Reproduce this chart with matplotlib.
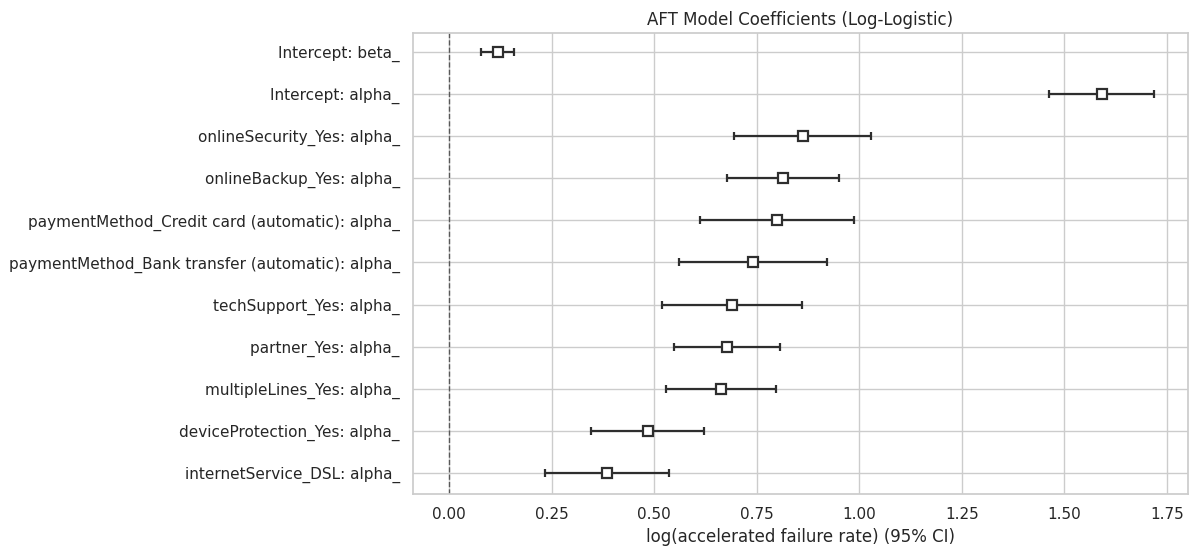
import numpy as np
import matplotlib
matplotlib.use("Agg")
import matplotlib.pyplot as plt
import seaborn as sns

# coefficients, top row first
labels = [
    "Intercept: beta_",
    "Intercept: alpha_",
    "onlineSecurity_Yes: alpha_",
    "onlineBackup_Yes: alpha_",
    "paymentMethod_Credit card (automatic): alpha_",
    "paymentMethod_Bank transfer (automatic): alpha_",
    "techSupport_Yes: alpha_",
    "partner_Yes: alpha_",
    "multipleLines_Yes: alpha_",
    "deviceProtection_Yes: alpha_",
    "internetService_DSL: alpha_",
]
coef = [0.119, 1.591, 0.863, 0.814, 0.799, 0.741, 0.689, 0.677, 0.662, 0.484, 0.384]
ci_lower = [0.078, 1.463, 0.695, 0.678, 0.612, 0.561, 0.519, 0.548, 0.528, 0.345, 0.234]
ci_upper = [0.159, 1.718, 1.029, 0.951, 0.987, 0.921, 0.860, 0.807, 0.797, 0.622, 0.536]

sns.set_theme(style="whitegrid")

coef = np.array(coef)
lo = coef - np.array(ci_lower)
hi = np.array(ci_upper) - coef
ypos = np.arange(len(labels))[::-1]

fig, ax = plt.subplots(figsize=(11.99, 5.56), dpi=100)
fig.subplots_adjust(left=0.3445, right=0.9908, top=0.9406, bottom=0.1115)

ax.errorbar(coef, ypos, xerr=[lo, hi], fmt="s", color="#2e2e2e",
            markerfacecolor="white", markeredgewidth=1.6, markersize=7,
            elinewidth=1.6, capsize=3, capthick=1.6)
ax.axvline(0, ls="--", color="k", alpha=0.65, lw=1)

ax.set_yticks(ypos)
ax.set_yticklabels(labels)
ax.set_ylim(-0.5, len(labels) - 0.55)
ax.set_xlim(-0.088, 1.801)
ax.set_xticks(np.arange(0, 1.76, 0.25))
ax.set_xlabel("log(accelerated failure rate) (95% CI)")
ax.set_title("AFT Model Coefficients (Log-Logistic)")

fig.savefig("out.png", dpi=100)
